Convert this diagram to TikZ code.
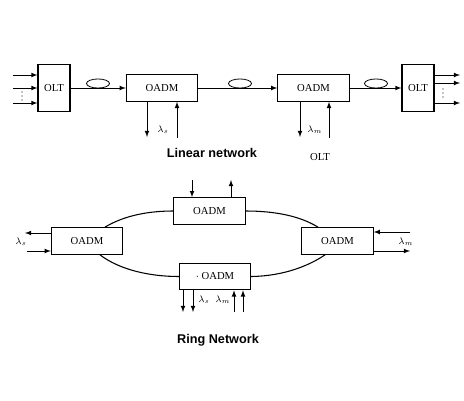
\documentclass[tikz,border=0pt]{standalone}
\usepackage{fontspec}
\setmainfont{Liberation Serif}
\newfontfamily\titlefont{Liberation Sans}
\usetikzlibrary{calc}
\begin{document}
\begin{tikzpicture}
[x=0.75pt,y=-0.75pt,>=latex,
 box/.style={draw=black,thick,fill=white,inner sep=0pt,font=\fontsize{8}{9}\selectfont},
 olt/.style={box,minimum width=24pt,minimum height=35.5pt},
 oadm/.style={box,minimum width=53.5pt,minimum height=20pt},
 fibre/.style={semithick},
 lam/.style={font=\fontsize{7.5}{8}\selectfont,inner sep=1pt},
 title/.style={font=\titlefont\bfseries\fontsize{9.5}{11}\selectfont}]
\useasboundingbox (0,0) rectangle (464,400);
% linear network
\node[olt] (oltA) at (54,88) {OLT};
\node[oadm] (oadmA) at (162,88) {OADM};
\node[oadm] (oadmB) at (313.5,88) {OADM};
\node[olt] (oltB) at (418,88) {OLT};
\foreach \y in {75,88,103}
{
  \coordinate (in\y) at (13,\y);
  \draw[fibre,->] (in\y) -- (in\y -| oltA.west);
}
\foreach \y in {75,83,103}
{
  \coordinate (out\y) at (460,\y);
  \draw[fibre,->] (out\y -| oltB.east) -- (out\y);
}
% dots between the lines
\foreach \y in {92,96,100}
{
  \fill (22,\y) circle (0.55pt);
  \fill (443,\y-3) circle (0.55pt);
}
\draw[fibre,->] (oltA.east) -- (oadmA.west);
\draw[fibre,->] (oadmA.east) -- (oadmB.west);
\draw[fibre,->] (oadmB.east) -- (oltB.west);
% fibre coils
\foreach \name/\x in {coilA/98,coilB/240,coilC/376}
{
  \coordinate (\name) at (\x,83.5);
  \draw[fibre] (\name) ellipse [x radius=8.6pt, y radius=3.4pt];
}
% drop and add
\coordinate (dropA) at (147,137);
\coordinate (addA) at (177,138);
\coordinate (dropB) at (300,137);
\coordinate (addB) at (329,138);
\draw[fibre,->] (dropA |- oadmA.south) -- (dropA);
\draw[fibre,->] (addA) -- (addA |- oadmA.south);
\draw[fibre,->] (dropB |- oadmB.south) -- (dropB);
\draw[fibre,->] (addB) -- (addB |- oadmB.south);
\node[lam] (lamA) at (163,130) {$\lambda_s$};
\node[lam] (lamB) at (315,130) {$\lambda_m$};
\node[box,draw=none,fill=none] (oltC) at (320,157) {OLT};
\node[title] (linear) at (212,153) {Linear network};
% ring network
\node[oadm] (ringT) at (209.5,211) {OADM};
\node[oadm] (ringL) at (87,241) {OADM};
\node[oadm] (ringR) at (337.5,241) {OADM};
\node[oadm] (ringB) at (215,276.5) {$\cdot$ OADM};
\draw[thick] ($(ringL.north)+(18,0)$) .. controls (125,215) and (150,211) .. (ringT.west);
\draw[thick] ($(ringL.south)+(13,0)$) .. controls (120,270) and (150,276.5) .. (ringB.west);
\draw[thick] (ringT.east) .. controls (275,211) and (300,216) .. ($(ringR.north)+(-19.5,0)$);
\draw[thick] (ringB.east) .. controls (285,276) and (310,265) .. ($(ringR.south)+(-12.5,0)$);
% top
\coordinate (topIn) at (192,180);
\coordinate (topOut) at (231,180);
\draw[fibre,->] (topIn) -- (topIn |- ringT.north);
\draw[fibre,->] (topOut |- ringT.north) -- (topOut);
% left
\coordinate (leftOut) at (25,233);
\coordinate (leftIn) at (27,251);
\draw[fibre,->] (leftOut -| ringL.west) -- (leftOut);
\draw[fibre,->] (leftIn) -- (leftIn -| ringL.west);
\node[lam] (lamL) at (21,242) {$\lambda_s$};
% right
\coordinate (rightIn) at (410,232);
\coordinate (rightOut) at (410,251);
\draw[fibre,->] (rightIn) -- (rightIn -| ringR.east);
\draw[fibre,->] (rightOut -| ringR.east) -- (rightOut);
\node[lam] (lamR) at (406,242) {$\lambda_m$};
% bottom
\foreach \x in {183,193}
{
  \coordinate (bDrop\x) at (\x,312);
  \draw[fibre,->] (bDrop\x |- ringB.south) -- (bDrop\x);
}
\foreach \x in {234,243}
{
  \coordinate (bAdd\x) at (\x,312);
  \draw[fibre,->] (bAdd\x) -- (bAdd\x |- ringB.south);
}
\node[lam] (lamBs) at (204,300) {$\lambda_s$};
\node[lam] (lamBm) at (223,300) {$\lambda_m$};
\node[title] (ring) at (218,340) {Ring Network};
\end{tikzpicture}
\end{document}
